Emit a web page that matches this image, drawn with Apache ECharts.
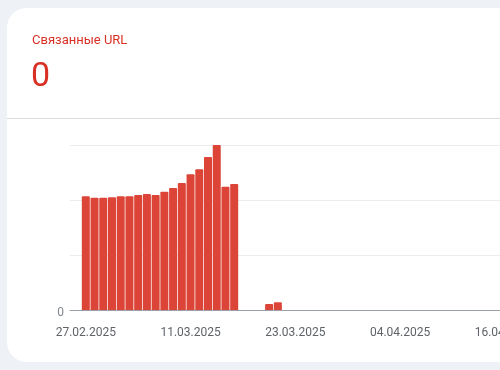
<!DOCTYPE html>
<html>
<head>
<meta charset="utf-8">
<script src="https://cdn.jsdelivr.net/npm/echarts@6/dist/echarts.min.js"></script>
<style>
  html, body { margin: 0; padding: 0; background: #eef2f7; overflow: hidden; width: 500px; height: 370px; }
  #chart { width: 640px; height: 370px; }
</style>
</head>
<body>
<div id="chart"></div>
<script>
// ---- data ----
const startDate = '2025-02-27';
const dates = [
  '2025-02-27','2025-02-28','2025-03-01','2025-03-02','2025-03-03','2025-03-04',
  '2025-03-05','2025-03-06','2025-03-07','2025-03-08','2025-03-09','2025-03-10',
  '2025-03-11','2025-03-12','2025-03-13','2025-03-14','2025-03-15','2025-03-16',
  '2025-03-17','2025-03-18','2025-03-19','2025-03-20','2025-03-21'
];
const values = [
  207, 204, 204, 205, 207, 207,
  209, 211, 209, 215, 222, 231,
  247, 256, 278, 300, 224, 229,
  0, 0, 0, 11, 14
];
const tickDates = ['2025-02-27','2025-03-11','2025-03-23','2025-04-04','2025-04-16'];
const tickLabels = ['27.02.2025','11.03.2025','23.03.2025','04.04.2025','16.04.2025'];
const titleText = 'Связанные URL';
const bigValue = '0';

// ---- helpers ----
const DAY = 86400000;
const t0 = Date.parse(startDate);
const dayIndex = d => Math.round((Date.parse(d) - t0) / DAY);
const seriesData = dates.map((d, i) => [dayIndex(d), values[i]]);
const tickIdx = tickDates.map(dayIndex);
const labelMap = {};
tickIdx.forEach((v, i) => { labelMap[v] = tickLabels[i]; });

const red = '#d93025';
const chart = echarts.init(document.getElementById('chart'), null, { renderer: 'canvas' });
chart.setOption({
  animation: false,
  backgroundColor: '#eef2f7',
  graphic: [
    { type: 'rect', z: -10, shape: { x: 7, y: 8, width: 700, height: 354, r: 20 }, style: { fill: '#ffffff' } },
    { type: 'line', z: -9, shape: { x1: 7, y1: 118.5, x2: 700, y2: 118.5 }, style: { stroke: '#dadce0', lineWidth: 1 } }
  ],
  title: [
    { text: titleText, left: 27, top: 29, textStyle: { fontFamily: 'Roboto', fontSize: 13, fontWeight: 'normal', color: red } },
    { text: bigValue, left: 26, top: 55, textStyle: { fontFamily: 'Roboto', fontSize: 34, fontWeight: 'normal', color: red } }
  ],
  grid: { left: 70, top: 145, width: 540, height: 165, containLabel: false },
  xAxis: {
    type: 'value',
    min: -1.81,
    max: 60.05,
    splitLine: { show: false },
    axisTick: { show: false },
    axisLine: { show: true, lineStyle: { color: '#9aa0a6', width: 1 } },
    axisLabel: {
      customValues: tickIdx,
      formatter: v => labelMap[v] || '',
      color: '#5f6368',
      fontFamily: 'Roboto',
      fontSize: 12,
      margin: 17,
      showMinLabel: true,
      showMaxLabel: true
    }
  },
  yAxis: {
    type: 'value',
    min: 0,
    max: 300,
    interval: 100,
    axisLine: { show: false },
    axisTick: { show: false },
    splitLine: { show: true, lineStyle: { color: '#ececec', width: 1 } },
    axisLabel: {
      formatter: v => (v === 0 ? '{z|0}' : ''),
      color: '#80868b',
      fontFamily: 'Roboto',
      fontSize: 12,
      margin: 6,
      rich: { z: { color: '#80868b', fontFamily: 'Roboto', fontSize: 12, padding: [5, 0, 0, 0] } }
    }
  },
  series: [{
    type: 'bar',
    data: seriesData,
    barWidth: 8,
    itemStyle: { color: '#db4437', borderRadius: [1, 1, 0, 0] },
    silent: true
  }]
});
</script>
</body>
</html>
